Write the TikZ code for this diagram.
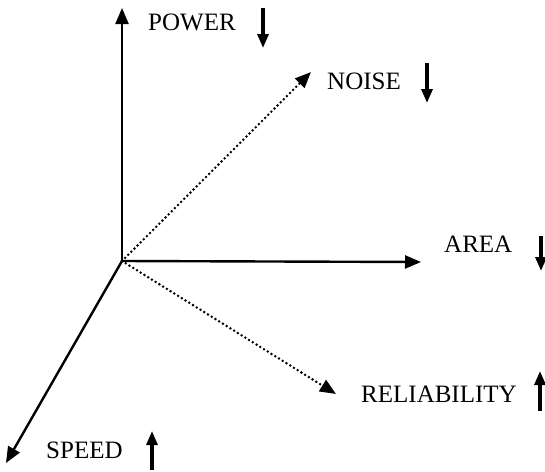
\documentclass[tikz,border=0pt]{standalone}
\usepackage{fontspec}
\setmainfont{Liberation Serif}
\usetikzlibrary{arrows.meta,positioning}

\begin{document}
\begin{tikzpicture}[x=1pt, y=-1pt,
  axis/.style={-{Triangle[length=16pt,width=13pt]}, line width=2.4pt},
  soft/.style={-{Triangle[length=16pt,width=13pt]}, line width=2.8pt,
    line cap=round, dash pattern=on 0pt off 4.4pt},
  lbl/.style={font=\fontsize{25}{28}\selectfont, inner sep=0pt, anchor=base west},
  trend/.style={-{Triangle[length=14pt,width=11pt]}, line width=3.2pt}
]
\useasboundingbox (0,0) rectangle (545,471);

% axes
\coordinate (origin) at (122,261);
\coordinate (power)  at (122,8);
\coordinate (noise)  at (311,72);
\coordinate (area)   at (421,262);
\coordinate (reliab) at (336,394);
\coordinate (speed)  at (6,463);

\draw[axis] (origin) -- (power);
\draw[soft] (origin) -- (noise);
\draw[axis] (origin) -- (area);
\draw[soft] (origin) -- (reliab);
\draw[axis] (origin) -- (speed);

% labels
\node[lbl] (powerlbl)  at (148,30)  {POWER};
\node[lbl] (noiselbl)  at (327,89)  {NOISE};
\node[lbl] (arealbl)   at (444,252) {AREA};
\node[lbl] (reliablbl) at (361,402) {RELIABILITY};
\node[lbl] (speedlbl)  at (46,458)  {SPEED};

% up / down marks
\coordinate (powerA)  at (263,8);   \coordinate (powerB)  at (263,48);
\coordinate (noiseA)  at (427,63);  \coordinate (noiseB)  at (427,103);
\coordinate (areaA)   at (541,236); \coordinate (areaB)   at (541,271);
\coordinate (reliabA) at (540,411); \coordinate (reliabB) at (540,371);
\coordinate (speedA)  at (152,470); \coordinate (speedB)  at (152,431);

\draw[trend] (powerA) -- (powerB);
\draw[trend] (noiseA) -- (noiseB);
\draw[trend] (areaA) -- (areaB);
\draw[trend] (reliabA) -- (reliabB);
\draw[trend] (speedA) -- (speedB);
\end{tikzpicture}
\end{document}
